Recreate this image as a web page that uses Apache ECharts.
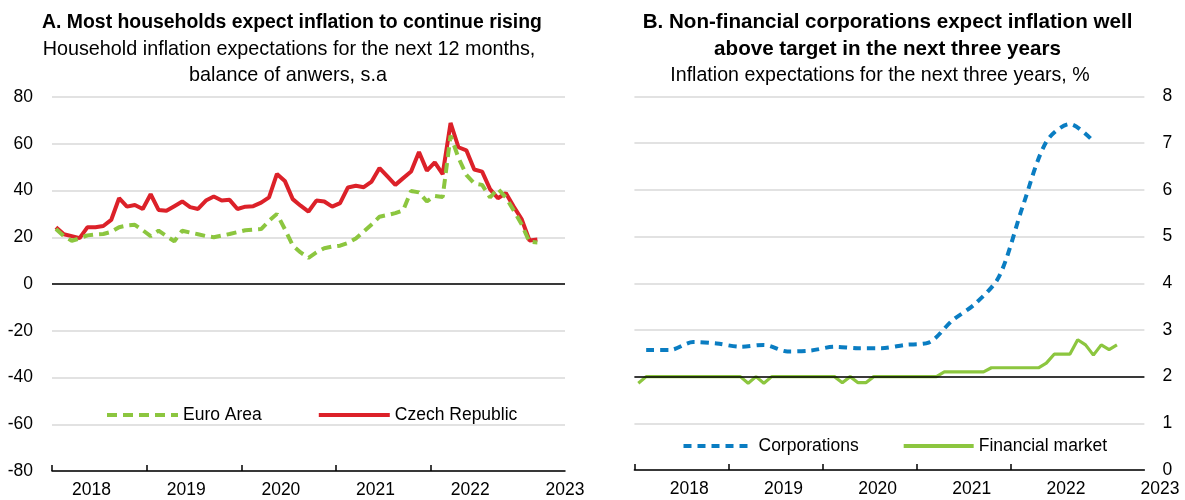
<!DOCTYPE html>
<html>
<head>
<meta charset="utf-8">
<script src="https://cdn.jsdelivr.net/npm/echarts@6/dist/echarts.min.js"></script>
<style>
html,body{margin:0;padding:0;background:#fff;}
#chart{width:1185px;height:500px;}
</style>
</head>
<body>
<div id="chart"></div>
<script>
// Monthly data, January 2018 – February 2023
const hhEuroArea = [23.5,20.5,18.5,19.5,20.8,21.2,21.4,22.3,24.3,25.0,25.3,23.0,
  20.5,22.8,20.5,18.3,22.8,22.0,21.3,20.5,20.0,20.7,21.4,22.2,
  23.0,23.3,23.5,27.0,30.0,23.5,16.5,13.5,11.2,13.5,15.3,16.0,
  16.4,17.6,19.5,22.5,25.5,28.8,29.5,30.3,31.5,39.8,39.2,35.3,
  37.7,37.2,63.5,54.0,46.7,43.0,42.4,37.0,40.8,37.0,31.5,25.5,
  18.0,17.8];
const hhCzech = [24.3,21.3,20.5,19.6,24.3,24.3,24.8,27.4,36.7,33.1,33.8,32.1,
  38.4,31.7,31.3,33.3,35.3,32.9,32.1,35.7,37.4,35.7,36.0,32.1,
  33.1,33.3,34.8,37.1,47.1,44.1,36.3,33.5,31.0,35.7,35.3,33.1,
  34.6,41.3,42.0,41.4,43.8,49.6,46.0,42.4,45.3,48.1,56.5,48.5,
  52.0,47.0,68.9,58.5,57.2,49.0,48.1,40.6,36.7,38.9,33.1,27.8,
  18.6,19.0];
// Quarterly, 2018Q1 – 2022Q4
const corporations = [2.57,2.57,2.74,2.71,2.64,2.68,2.54,2.56,2.64,2.61,2.61,2.68,
  2.73,3.20,3.57,4.15,5.65,7.03,7.41,7.04];
// Monthly, January 2018 – February 2023
const financialMarket = [1.86,2.0,2.0,2.0,2.0,2.0,2.0,2.0,2.0,2.0,2.0,2.0,
  2.0,2.0,1.86,2.0,1.86,2.0,2.0,2.0,2.0,2.0,2.0,2.0,
  2.0,2.0,1.87,2.0,1.87,1.87,2.0,2.0,2.0,2.0,2.0,2.0,
  2.0,2.0,2.0,2.1,2.1,2.1,2.1,2.1,2.1,2.19,2.19,2.19,
  2.19,2.19,2.19,2.19,2.29,2.48,2.48,2.48,2.79,2.68,2.46,2.68,
  2.58,2.68];
const yearLabels = ['2018','2019','2020','2021','2022','2023'];
const leftTicks = [-80,-60,-40,-20,0,20,40,60,80];
const rightTicks = [0,1,2,3,4,5,6,7,8];

// x position: months since Jan 2018, plotted at mid-period
const monthly = arr => arr.map((v,i)=>[i+0.5, v]);
const quarterly = arr => arr.map((v,i)=>[i*3+1.5, v]);
const yearStarts = yearLabels.slice(0,5).map((y,i)=>i*12);

const LBL = "'Liberation Sans',Arial,sans-serif";
const SANS = "'Liberation Sans',Arial,sans-serif";
const LBL_SIZE = 17.5;
const GREEN = '#8cc63f', RED = '#dc2129', BLUE = '#0a7dc2', GRID = '#d9d9d9';

const chart = echarts.init(document.getElementById('chart'), null, {renderer:'canvas'});

function yearLabelAxis(gridIndex, offset, showLine) {
  return {
    type:'value', gridIndex, min:0, max: gridIndex===2 ? 70 : 65,
    axisLine:{show:showLine, onZero:false, lineStyle:{color:'#000', width:1.5}},
    axisTick:{show:showLine, inside:true, length:6, customValues: yearStarts, lineStyle:{color:'#000', width:1.5}},
    axisLabel:{show: offset!==null, margin:10, fontFamily:LBL, fontSize:LBL_SIZE, color:'#000',
      customValues: offset===null ? [] : yearLabels.map((y,i)=>i*12+offset),
      formatter: v => yearLabels[Math.round((v-offset)/12)]},
    splitLine:{show:false}
  };
}

const boldA = {fontFamily:SANS, fontSize:19.4, fontWeight:'bold', color:'#000'};
const boldB = {fontFamily:SANS, fontSize:20.6, fontWeight:'bold', color:'#000'};
const subA = {fontFamily:SANS, fontSize:19.8, fontWeight:'normal', color:'#000'};
const subB = {fontFamily:SANS, fontSize:19.6, fontWeight:'normal', color:'#000'};

const option = {
  animation:false,
  backgroundColor:'#fff',
  title:[
    {text:'A. Most households expect inflation to continue rising', left:287, top:8, textAlign:'center', textStyle:boldA},
    {text:'Household inflation expectations for the next 12 months,', left:284, top:35, textAlign:'center', textStyle:subA},
    {text:'balance of anwers, s.a', left:283, top:61, textAlign:'center', textStyle:subA},
    {text:'B. Non-financial corporations expect inflation well', left:882.5, top:7, textAlign:'center', textStyle:boldB},
    {text:'above target in the next three years', left:882.5, top:34, textAlign:'center', textStyle:boldB},
    {text:'Inflation expectations for the next three years, %', left:875, top:61, textAlign:'center', textStyle:subB}
  ],
  legend:[
    {left:105, top:406, padding:0, itemWidth:71, itemHeight:14, itemGap:55, data:['Euro Area','Czech Republic'],
      itemStyle:{opacity:0}, lineStyle:{width:4},
      textStyle:{fontFamily:LBL, fontSize:LBL_SIZE, color:'#000'}},
    {left:681.5, top:437, padding:0, itemWidth:70, itemHeight:14, itemGap:43, data:['Corporations','Financial market'],
      itemStyle:{opacity:0}, lineStyle:{width:4},
      textStyle:{fontFamily:LBL, fontSize:LBL_SIZE, color:'#000'}}
  ],
  grid:[
    {left:52, top:97, width:513, height:374},
    {left:634.4, top:96.5, width:510, height:373.5},
    {left:634.4, top:96.5, width:549.2, height:373.5}
  ],
  xAxis:[
    yearLabelAxis(0, 5, true),
    yearLabelAxis(1, null, true),
    yearLabelAxis(2, 7, false)
  ],
  yAxis:[
    {type:'value', gridIndex:0, min:-80, max:80, interval:20,
      axisLine:{show:false}, axisTick:{show:false},
      axisLabel:{margin:19, fontFamily:LBL, fontSize:LBL_SIZE, color:'#000', customValues:leftTicks},
      splitLine:{show:true, lineStyle:{color:GRID, width:1.5}}},
    {type:'value', gridIndex:1, min:0, max:8, interval:1, position:'right',
      axisLine:{show:false}, axisTick:{show:false},
      axisLabel:{margin:18, fontFamily:LBL, fontSize:LBL_SIZE, color:'#000', customValues:rightTicks},
      splitLine:{show:true, lineStyle:{color:GRID, width:1.5}}},
    {type:'value', gridIndex:2, min:0, max:8, show:false}
  ],
  series:[
    {name:'Czech Republic', type:'line', xAxisIndex:0, yAxisIndex:0, data:monthly(hhCzech),
      symbol:'none', lineStyle:{color:RED, width:4}, itemStyle:{color:RED}, z:3,
      markLine:{silent:true, symbol:'none', label:{show:false}, animation:false,
        lineStyle:{color:'#000', width:1.5, type:'solid'}, data:[{yAxis:0}]}},
    {name:'Euro Area', type:'line', xAxisIndex:0, yAxisIndex:0, data:monthly(hhEuroArea),
      symbol:'none', lineStyle:{color:GREEN, width:4, type:[10,6]}, itemStyle:{color:GREEN}, z:4},
    {name:'Corporations', type:'line', xAxisIndex:1, yAxisIndex:1, data:quarterly(corporations),
      symbol:'none', smooth:0.3, lineStyle:{color:BLUE, width:4, type:[8,6]}, itemStyle:{color:BLUE}, z:3,
      markLine:{silent:true, symbol:'none', label:{show:false}, animation:false,
        lineStyle:{color:'#000', width:1.5, type:'solid'}, data:[{yAxis:2}]}},
    {name:'Financial market', type:'line', xAxisIndex:1, yAxisIndex:1, data:monthly(financialMarket),
      symbol:'none', lineStyle:{color:GREEN, width:3.2}, itemStyle:{color:GREEN}, z:4}
  ]
};
chart.setOption(option);
</script>
</body>
</html>
